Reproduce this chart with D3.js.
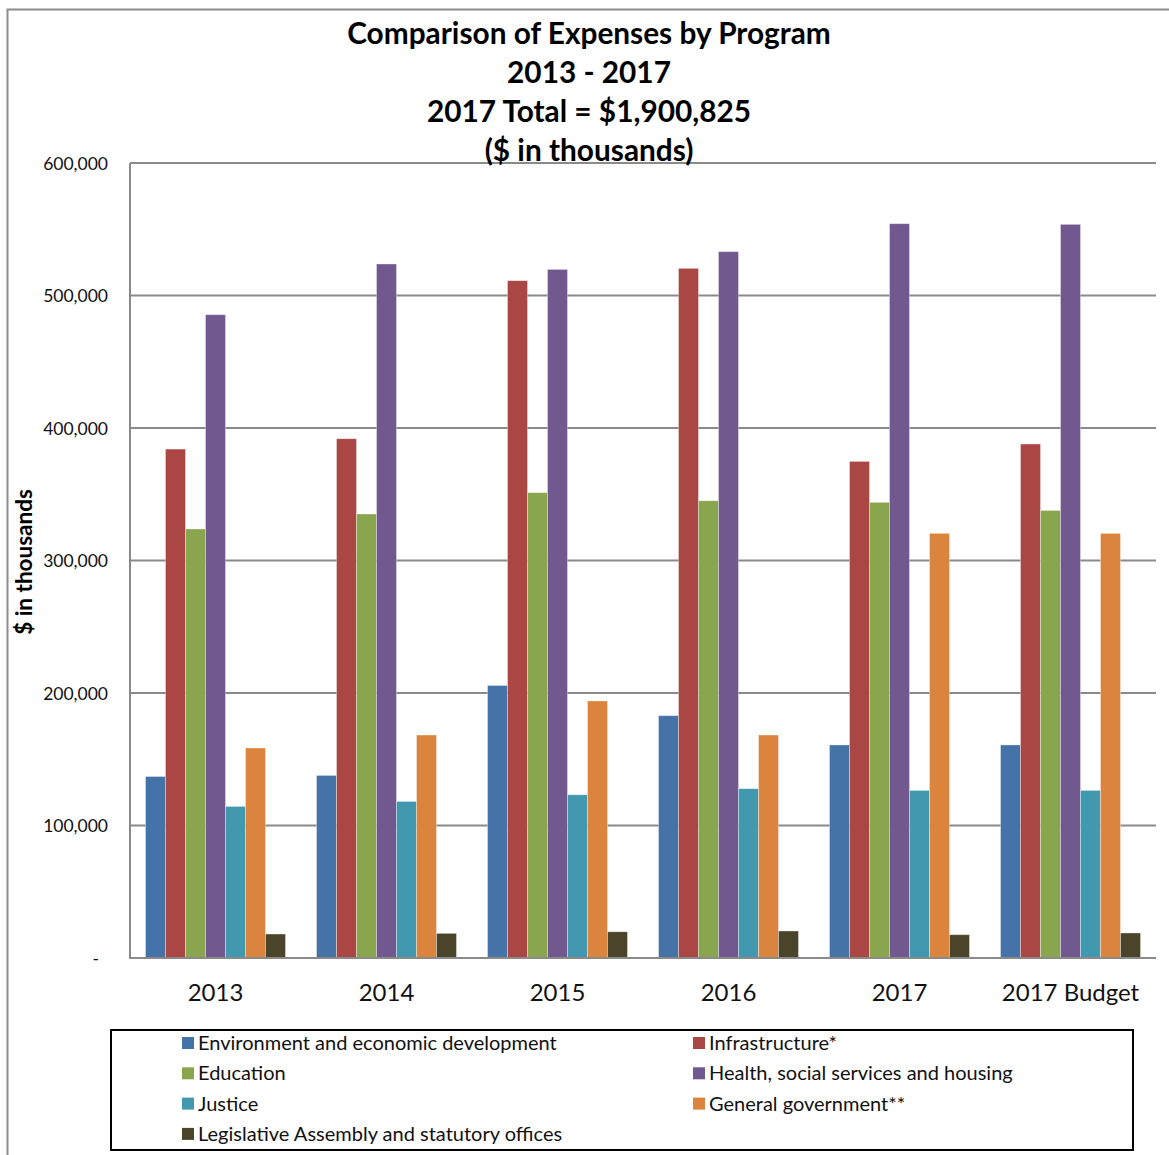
<!DOCTYPE html>
<html>
<head>
<meta charset="utf-8">
<script src="https://cdn.jsdelivr.net/npm/d3@7"></script>
<style>
  html, body { margin: 0; padding: 0; background: #fff; }
  svg { display: block; font-family: Lato, "Open Sans", sans-serif; }
</style>
</head>
<body>
<svg id="chart" width="1169" height="1155"></svg>
<script>
// Expense categories by year ($ in thousands)
const categories = ["2013", "2014", "2015", "2016", "2017", "2017 Budget"];

const seriesNames = [
  "Environment and economic development",
  "Infrastructure*",
  "Education",
  "Health, social services and housing",
  "Justice",
  "General government**",
  "Legislative Assembly and statutory offices"
];

const seriesColors = ["#4572A7", "#AA4643", "#89A54E", "#71588F", "#4198AF", "#DB843D", "#4A452A"];

const environment  = [137000, 137800, 205700, 182900, 160800, 160800];
const infrastructure = [384100, 391900, 511200, 520500, 374800, 387900];
const education    = [323800, 335100, 351200, 345100, 343900, 337800];
const health       = [485500, 523800, 519700, 533100, 554200, 553700];
const justice      = [114400, 118200, 123200, 127800, 126500, 126500];
const generalGov   = [158500, 168300, 194000, 168300, 320500, 320500];
const legislative  = [18100, 18600, 19800, 20400, 17600, 18900];

const seriesValues = [environment, infrastructure, education, health, justice, generalGov, legislative];

const yTicks = [0, 100000, 200000, 300000, 400000, 500000, 600000];

const titleLines = [
  "Comparison of Expenses by Program",
  "2013 - 2017",
  "2017 Total = $1,900,825",
  "($ in thousands)"
];

const svg = d3.select("#chart");

// outer chart frame
svg.append("rect")
  .attr("x", 7.5).attr("y", 9.5)
  .attr("width", 1200).attr("height", 1200)
  .attr("fill", "none")
  .attr("stroke", "#8c8c8c")
  .attr("stroke-width", 2);

const plot = { left: 130, right: 1156, top: 163, bottom: 958 };

const x0 = d3.scaleBand()
  .domain(categories)
  .range([plot.left, plot.right])
  .padding(0);

const x1 = d3.scaleBand()
  .domain(d3.range(seriesNames.length))
  .range([15.5, x0.bandwidth() - 15.5])
  .padding(0);

const y = d3.scaleLinear()
  .domain([0, 600000])
  .range([plot.bottom, plot.top]);

// horizontal gridlines
svg.append("g")
  .selectAll("line")
  .data(yTicks.filter(d => d > 0))
  .join("line")
  .attr("x1", plot.left).attr("x2", plot.right)
  .attr("y1", d => y(d)).attr("y2", d => y(d))
  .attr("stroke", "#8a8a8a")
  .attr("stroke-width", 2);

// y-axis tick labels (zero shown as a dash, accounting style)
const yAxis = d3.axisLeft(y)
  .tickValues(yTicks)
  .tickSize(0)
  .tickPadding(22)
  .tickFormat(d => d === 0 ? "-" : d3.format(",")(d));

const yg = svg.append("g")
  .attr("transform", `translate(${plot.left},0)`)
  .call(yAxis);
yg.select(".domain").remove();
yg.selectAll("text")
  .attr("font-size", 17.5)
  .attr("fill", "#111")
  .style("font-family", "Lato, 'Open Sans', sans-serif")
  .attr("dy", "0.35em")
  .attr("dx", d => d === 0 ? -9 : 0);

// bars
const groups = svg.append("g")
  .selectAll("g")
  .data(categories)
  .join("g")
  .attr("transform", c => `translate(${x0(c)},0)`);

groups.selectAll("rect")
  .data((c, ci) => seriesValues.map((vals, si) => ({ si, v: vals[ci] })))
  .join("rect")
  .attr("x", d => x1(d.si))
  .attr("width", x1.bandwidth())
  .attr("y", d => y(d.v))
  .attr("height", d => y(0) - y(d.v))
  .attr("fill", d => seriesColors[d.si])
  .attr("stroke", "rgba(255,255,255,0.45)")
  .attr("stroke-width", 0.8);

// axis lines
svg.append("line")
  .attr("x1", plot.left).attr("x2", plot.left)
  .attr("y1", plot.top).attr("y2", plot.bottom)
  .attr("stroke", "#8a8a8a").attr("stroke-width", 2);
svg.append("line")
  .attr("x1", plot.left - 1).attr("x2", plot.right)
  .attr("y1", plot.bottom).attr("y2", plot.bottom)
  .attr("stroke", "#8a8a8a").attr("stroke-width", 2);

// x-axis category labels
const xAxis = d3.axisBottom(x0).tickSize(0).tickPadding(0);
const xg = svg.append("g")
  .attr("transform", `translate(0,${plot.bottom})`)
  .call(xAxis);
xg.select(".domain").remove();
xg.selectAll("text")
  .attr("y", 43)
  .attr("dy", 0)
  .attr("font-size", 24)
  .attr("fill", "#111")
  .style("font-family", "Lato, 'Open Sans', sans-serif");

// title
svg.append("g")
  .selectAll("text")
  .data(titleLines)
  .join("text")
  .attr("x", 589)
  .attr("y", (d, i) => 44 + i * 39)
  .attr("text-anchor", "middle")
  .attr("font-size", 29.8)
  .attr("font-weight", "bold")
  .attr("fill", "#000")
  .text(d => d);

// y-axis title
svg.append("text")
  .attr("transform", "translate(32,562) rotate(-90)")
  .attr("text-anchor", "middle")
  .attr("font-size", 22.5)
  .attr("font-weight", "bold")
  .attr("fill", "#000")
  .text("$ in thousands");

// legend
const legend = svg.append("g");
legend.append("rect")
  .attr("x", 111).attr("y", 1030)
  .attr("width", 1022).attr("height", 120)
  .attr("fill", "#fff")
  .attr("stroke", "#000")
  .attr("stroke-width", 2);

const legendOrder = [0, 1, 2, 3, 4, 5, 6];
const legendItems = legend.selectAll("g.item")
  .data(legendOrder)
  .join("g")
  .attr("class", "item")
  .attr("transform", (si, i) => {
    const col = i % 2, row = Math.floor(i / 2);
    return `translate(${col === 0 ? 182 : 693},${1043 + row * 30.3})`;
  });

legendItems.append("rect")
  .attr("x", 0).attr("y", -6)
  .attr("width", 12).attr("height", 12)
  .attr("fill", si => seriesColors[si]);

legendItems.append("text")
  .attr("x", 16)
  .attr("y", 0)
  .attr("dy", "0.35em")
  .attr("font-size", 20)
  .attr("fill", "#111")
  .text(si => seriesNames[si]);
</script>
</body>
</html>
